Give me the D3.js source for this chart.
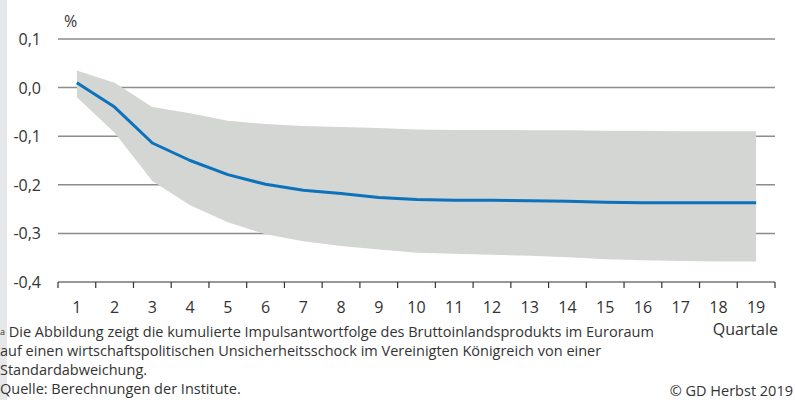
<!DOCTYPE html>
<html>
<head>
<meta charset="utf-8">
<script src="https://cdn.jsdelivr.net/npm/d3@7"></script>
<style>
  body { margin: 0; background: #fff; }
  svg text { font-family: "Source Sans Pro", "Open Sans", sans-serif; fill: #333; }
</style>
</head>
<body>
<svg id="chart" width="795" height="400"></svg>
<script>
// quarters after the shock
var quarters = d3.range(1, 20);
// cumulated impulse response (%)
var response = [0.01, -0.04, -0.114, -0.15, -0.179, -0.199, -0.211, -0.218, -0.226, -0.23,
    -0.232, -0.232, -0.233, -0.234, -0.236, -0.237, -0.237, -0.237, -0.237];
// confidence band
var upper = [0.035, 0.01, -0.04, -0.053, -0.068, -0.075, -0.079, -0.081, -0.083, -0.086,
    -0.087, -0.087, -0.088, -0.088, -0.089, -0.089, -0.09, -0.09, -0.09];
var lower = [-0.02, -0.093, -0.192, -0.242, -0.277, -0.302, -0.316, -0.326, -0.333, -0.34,
    -0.342, -0.344, -0.346, -0.349, -0.353, -0.355, -0.357, -0.358, -0.358];
var yTicks = [0.1, 0, -0.1, -0.2, -0.3, -0.4];
var footnote = [
    "Die Abbildung zeigt die kumulierte Impulsantwortfolge des Bruttoinlandsprodukts im Euroraum",
    "auf einen wirtschaftspolitischen Unsicherheitsschock im Vereinigten Königreich von einer",
    "Standardabweichung.",
    "Quelle: Berechnungen der Institute."
];

var svg = d3.select("#chart");

// grey strip on the left
svg.append("rect")
    .attr("x", 0).attr("y", 0)
    .attr("width", 7).attr("height", 400)
    .attr("fill", "#e6e7e8");

var x = d3.scaleBand()
    .domain(quarters)
    .range([58, 775]);

var y = d3.scaleLinear()
    .domain([-0.4, 0.1])
    .range([282, 39]);

var fmt = v => d3.format(".1f")(v).replace(".", ",").replace("−", "-");

// gridlines
svg.append("g")
    .selectAll("line")
    .data(yTicks.filter(d => d > -0.4))
    .enter()
    .append("line")
    .attr("x1", 58).attr("x2", 775)
    .attr("y1", d => y(d)).attr("y2", d => y(d))
    .attr("stroke", "#8c8c8c")
    .attr("stroke-width", 1.5);

// y labels
svg.append("g")
    .selectAll("text")
    .data(yTicks)
    .enter()
    .append("text")
    .attr("x", 41)
    .attr("y", d => y(d) + 6)
    .attr("text-anchor", "end")
    .attr("font-size", 16)
    .text(d => fmt(d));

svg.append("text")
    .attr("x", 64).attr("y", 27)
    .attr("font-size", 16)
    .text("%");

// confidence band
var cx = d => x(d) + x.bandwidth() / 2;
var area = d3.area()
    .x((d, i) => cx(quarters[i]))
    .y0((d, i) => y(lower[i]))
    .y1((d, i) => y(upper[i]));

svg.append("path")
    .datum(quarters)
    .attr("d", area)
    .attr("fill", "#d4d6d4");

// response line
var line = d3.line()
    .x((d, i) => cx(quarters[i]))
    .y(d => y(d));

svg.append("path")
    .datum(response)
    .attr("d", line)
    .attr("fill", "none")
    .attr("stroke", "#0b72bb")
    .attr("stroke-width", 3)
    .attr("stroke-linejoin", "round");

// x axis
var xAxis = svg.append("g")
    .attr("transform", "translate(0," + y(-0.4) + ")");

xAxis.append("line")
    .attr("x1", 58).attr("x2", 775)
    .attr("stroke", "#333")
    .attr("stroke-width", 1.2);

xAxis.selectAll(".tick")
    .data(quarters.concat([20]))
    .enter()
    .append("line")
    .attr("x1", d => d <= 19 ? x(d) : x.range()[1])
    .attr("x2", d => d <= 19 ? x(d) : x.range()[1])
    .attr("y1", 0).attr("y2", 6)
    .attr("stroke", "#333")
    .attr("stroke-width", 1.2);

xAxis.selectAll(".lbl")
    .data(quarters)
    .enter()
    .append("text")
    .attr("x", d => cx(d))
    .attr("y", 31)
    .attr("text-anchor", "middle")
    .attr("font-size", 16)
    .text(d => d);

svg.append("text")
    .attr("x", 778).attr("y", 335)
    .attr("text-anchor", "end")
    .attr("font-size", 16)
    .text("Quartale");

// footnote
var note = svg.append("g");
footnote.forEach((t, i) => {
    var txt = note.append("text")
        .attr("x", 0)
        .attr("y", 337 + i * 19)
        .attr("font-size", 14.5);
    if (i === 0) {
        txt.append("tspan").attr("font-size", 9).attr("dy", -2).text("a");
        txt.append("tspan").attr("dy", 2).text(" " + t);
    } else {
        txt.text(t);
    }
});

svg.append("text")
    .attr("x", 793).attr("y", 396)
    .attr("text-anchor", "end")
    .attr("font-size", 14.5)
    .text("© GD Herbst 2019");
</script>
</body>
</html>
